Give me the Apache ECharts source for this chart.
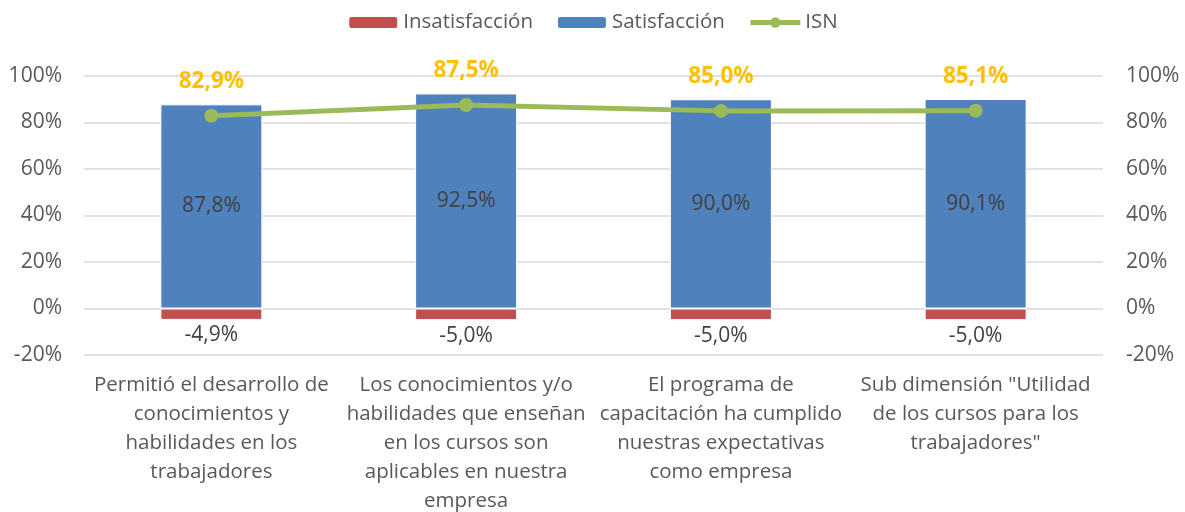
<!DOCTYPE html>
<html>
<head>
<meta charset="utf-8">
<script src="https://cdn.jsdelivr.net/npm/echarts@6/dist/echarts.min.js"></script>
<style>
  html, body { margin: 0; padding: 0; background: #fff; }
  #chart { width: 1185px; height: 512px; }
</style>
</head>
<body>
<div id="chart"></div>
<script>
// datos
const categorias = [
  'Permitió el desarrollo de\nconocimientos y\nhabilidades en los\ntrabajadores',
  'Los conocimientos y/o\nhabilidades que enseñan\nen los cursos son\naplicables en nuestra\nempresa',
  'El programa de\ncapacitación ha cumplido\nnuestras expectativas\ncomo empresa',
  'Sub dimensión "Utilidad\nde los cursos para los\ntrabajadores"'
]
const insatisfaccion = [-4.9, -5.0, -5.0, -5.0]
const satisfaccion = [87.8, 92.5, 90.0, 90.1]
const isn = [82.9, 87.5, 85.0, 85.1]

const fuente = '"Open Sans", Lato, sans-serif'
const fmt = v => v.toFixed(1).replace('.', ',') + '%'

const chart = echarts.init(document.getElementById('chart'))

const option = {
  backgroundColor: '#fff',
  animation: false,
  textStyle: { fontFamily: fuente },
  legend: {
    top: 7,
    left: 'center',
    itemWidth: 50,
    itemHeight: 13,
    itemGap: 23,
    textStyle: { fontSize: 20.5, color: '#595959', fontFamily: fuente },
    data: [
      'Insatisfacción',
      'Satisfacción',
      { name: 'ISN', lineStyle: { width: 5 }, itemStyle: { color: '#9BBB59' } }
    ]
  },
  grid: {
    left: 84,
    right: 82,
    top: 76,
    bottom: 157,
    containLabel: false,
    outerBoundsMode: 'none'
  },
  xAxis: {
    type: 'category',
    data: categorias,
    axisLine: { show: false },
    axisTick: { show: false },
    axisLabel: {
      fontSize: 20.5,
      color: '#595959',
      lineHeight: 29,
      margin: 16,
      interval: 0
    }
  },
  yAxis: [
    {
      type: 'value',
      min: -20,
      max: 100,
      interval: 20,
      axisLine: { show: false },
      axisTick: { show: false },
      axisLabel: { formatter: '{value}%', fontSize: 21, color: '#595959', margin: 22 },
      splitLine: { lineStyle: { color: '#d9d9d9', width: 1.5 } }
    },
    {
      type: 'value',
      min: -20,
      max: 100,
      interval: 20,
      position: 'right',
      axisLine: { show: false },
      axisTick: { show: false },
      axisLabel: { formatter: '{value}%', fontSize: 21, color: '#595959', margin: 23 },
      splitLine: { show: false }
    }
  ],
  series: [
    {
      name: 'Insatisfacción',
      type: 'bar',
      stack: 'total',
      barWidth: 102,
      data: insatisfaccion,
      itemStyle: { color: '#C0504D', borderColor: '#fff', borderWidth: 1 },
      label: {
        show: true,
        position: 'bottom',
        distance: 5,
        fontSize: 21,
        color: '#404040',
        formatter: p => fmt(p.value)
      }
    },
    {
      name: 'Satisfacción',
      type: 'bar',
      stack: 'total',
      barWidth: 102,
      data: satisfaccion,
      itemStyle: { color: '#4F81BD', borderColor: '#fff', borderWidth: 1 },
      label: {
        show: true,
        position: 'inside',
        fontSize: 21,
        color: '#404040',
        formatter: p => fmt(p.value)
      }
    },
    {
      name: 'ISN',
      type: 'line',
      data: isn,
      symbol: 'circle',
      symbolSize: 14,
      lineStyle: { color: '#9BBB59', width: 5 },
      itemStyle: { color: '#9BBB59' },
      label: {
        show: true,
        position: 'top',
        distance: 16,
        fontSize: 22.5,
        fontWeight: 'bold',
        color: '#FFC000',
        formatter: p => fmt(p.value)
      },
      z: 5
    }
  ]
}

chart.setOption(option)
</script>
</body>
</html>
